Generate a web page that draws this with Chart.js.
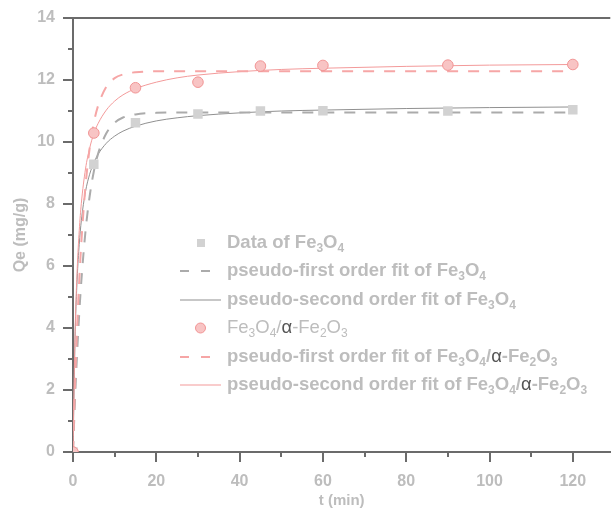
<!DOCTYPE html>
<html>
<head>
<meta charset="utf-8">
<script src="https://cdn.jsdelivr.net/npm/chart.js@4.4.1/dist/chart.umd.min.js"></script>
<style>
html, body { margin: 0; padding: 0; background: #fff; overflow: hidden; }
#wrap { width: 617px; height: 518px; position: relative; }
</style>
</head>
<body>
<div id="wrap"><canvas id="chart"></canvas></div>
<script>
// 实验数据 (t / min)
const tData = [0, 5, 15, 30, 45, 60, 90, 120];
const qFe3O4 = [0, 9.28, 10.62, 10.9, 11.0, 11.01, 11.0, 11.04];
const qComposite = [0, 10.29, 11.75, 11.93, 12.45, 12.47, 12.48, 12.5];

// 拟合曲线
const tFit = [0, 0.5, 1, 1.5, 2, 3, 4, 5, 6, 8, 10, 12, 15, 20, 25, 30, 40, 50, 60, 80, 100, 120];
const pfoFe3O4 = [0, 1.76, 3.23, 4.47, 5.51, 7.12, 8.25, 9.05, 9.61, 10.28, 10.62, 10.79, 10.89, 10.94, 10.95, 10.95, 10.95, 10.95, 10.95, 10.95, 10.95, 10.95];
const psoFe3O4 = [0, 3.71, 5.58, 6.7, 7.46, 8.4, 8.96, 9.33, 9.6, 9.96, 10.19, 10.35, 10.51, 10.68, 10.78, 10.85, 10.94, 11.0, 11.03, 11.08, 11.11, 11.13];
const pfoComposite = [0, 2.22, 4.05, 5.54, 6.76, 8.58, 9.8, 10.62, 11.16, 11.78, 12.06, 12.18, 12.25, 12.28, 12.28, 12.28, 12.28, 12.28, 12.28, 12.28, 12.28, 12.28];
const psoComposite = [0, 3.83, 5.88, 7.15, 8.02, 9.13, 9.8, 10.27, 10.59, 11.03, 11.32, 11.52, 11.72, 11.93, 12.07, 12.16, 12.27, 12.34, 12.38, 12.44, 12.48, 12.5];

const xTicks = [0, 20, 40, 60, 80, 100, 120];
const xMinorTicks = [10, 30, 50, 70, 90, 110];
const yTicks = [0, 2, 4, 6, 8, 10, 12, 14];
const yMinorTicks = [1, 3, 5, 7, 9, 11, 13];

// 图例文字: _n 表示下标, α 单独着色
const legendLabels = [
    'Data of Fe_3O_4',
    'pseudo-first order fit of Fe_3O_4',
    'pseudo-second order fit of Fe_3O_4',
    'Fe_3O_4/α-Fe_2O_3',
    'pseudo-first order fit of Fe_3O_4/α-Fe_2O_3',
    'pseudo-second order fit of Fe_3O_4/α-Fe_2O_3'
];

const AXIS = '#6b6b6b';
const TEXT = '#bdbdbd';
const FONT = '"Liberation Sans", Arial, sans-serif';

function toXY(xs, ys) {
    return xs.map((x, i) => ({ x: x, y: ys[i] }));
}

// 次刻度 + 顶部边框
const minorTicks = {
    id: 'minorTicks',
    afterDraw(chart) {
        const ctx = chart.ctx;
        const xs = chart.scales.x, ys = chart.scales.y;
        const a = chart.chartArea;
        ctx.save();
        ctx.strokeStyle = AXIS;
        ctx.lineWidth = 2;
        ctx.beginPath();
        ctx.moveTo(a.left - 1, a.top);
        ctx.lineTo(a.right, a.top);
        ctx.stroke();
        ctx.beginPath();
        xMinorTicks.forEach(v => {
            const px = Math.round(xs.getPixelForValue(v));
            ctx.moveTo(px, a.bottom);
            ctx.lineTo(px, a.bottom + 5);
        });
        yMinorTicks.forEach(v => {
            const py = Math.round(ys.getPixelForValue(v));
            ctx.moveTo(a.left, py);
            ctx.lineTo(a.left - 5, py);
        });
        ctx.stroke();
        ctx.restore();
    }
};

function drawRichText(ctx, text, x, y, bold) {
    const parts = text.split(/(_\d|α)/).filter(s => s.length);
    let cx = x;
    parts.forEach(p => {
        if (p.startsWith('_')) {
            ctx.font = (bold ? 'bold ' : '') + '12px ' + FONT;
            ctx.fillStyle = TEXT;
            ctx.fillText(p.slice(1), cx, y + 6);
            cx += ctx.measureText(p.slice(1)).width;
        } else if (p === 'α') {
            ctx.font = '18.5px ' + FONT;
            ctx.fillStyle = '#555';
            ctx.fillText(p, cx, y);
            cx += ctx.measureText(p).width;
        } else {
            ctx.font = (bold ? 'bold ' : '') + '18.5px ' + FONT;
            ctx.fillStyle = TEXT;
            ctx.fillText(p, cx, y);
            cx += ctx.measureText(p).width;
        }
    });
}

// 自定义图例 (带下标)
const richLegend = {
    id: 'richLegend',
    afterDraw(chart) {
        const ctx = chart.ctx;
        const ds = chart.data.datasets;
        const tx = 227;
        ctx.save();
        ctx.textBaseline = 'middle';
        ds.forEach((d, i) => {
            const y = Math.round(243 + i * 28.4);
            if (d.showLine) {
                const dashed = !!d.borderDash;
                ctx.strokeStyle = d.borderColor;
                ctx.lineWidth = dashed ? 2 : 1.2;
                ctx.setLineDash(dashed ? [9, 12] : []);
                ctx.beginPath();
                ctx.moveTo(180, y);
                ctx.lineTo(dashed ? 213 : 221, y);
                ctx.stroke();
                ctx.setLineDash([]);
            } else if (d.pointStyle === 'rect') {
                ctx.fillStyle = d.backgroundColor;
                ctx.fillRect(197, y - 4, 8, 8);
            } else {
                ctx.fillStyle = d.backgroundColor;
                ctx.strokeStyle = d.borderColor;
                ctx.lineWidth = 1;
                ctx.beginPath();
                ctx.arc(200.5, y, 5, 0, Math.PI * 2);
                ctx.fill();
                ctx.stroke();
            }
            drawRichText(ctx, legendLabels[i], tx, y, i !== 3);
        });
        ctx.restore();
    }
};

new Chart(document.getElementById('chart'), {
    type: 'scatter',
    data: {
        datasets: [{
            label: legendLabels[0],
            data: toXY(tData, qFe3O4),
            pointStyle: 'rect',
            pointRadius: 6.7,
            backgroundColor: '#d2d2d2',
            borderColor: '#d2d2d2',
            borderWidth: 0,
            order: 1
        }, {
            label: legendLabels[1],
            data: toXY(tFit, pfoFe3O4),
            showLine: true,
            pointRadius: 0,
            borderColor: '#ababab',
            borderWidth: 2,
            borderDash: [11, 10],
            cubicInterpolationMode: 'monotone',
            order: 3
        }, {
            label: legendLabels[2],
            data: toXY(tFit, psoFe3O4),
            showLine: true,
            pointRadius: 0,
            borderColor: '#909090',
            borderWidth: 1,
            cubicInterpolationMode: 'monotone',
            order: 3
        }, {
            label: legendLabels[3],
            data: toXY(tData, qComposite),
            pointStyle: 'circle',
            pointRadius: 5.3,
            backgroundColor: '#f8c4c4',
            borderColor: '#f19494',
            borderWidth: 1,
            order: 0
        }, {
            label: legendLabels[4],
            data: toXY(tFit, pfoComposite),
            showLine: true,
            pointRadius: 0,
            borderColor: '#f6a6a6',
            borderWidth: 2,
            borderDash: [11, 10],
            cubicInterpolationMode: 'monotone',
            order: 2
        }, {
            label: legendLabels[5],
            data: toXY(tFit, psoComposite),
            showLine: true,
            pointRadius: 0,
            borderColor: '#f39a9a',
            borderWidth: 1,
            cubicInterpolationMode: 'monotone',
            order: 2
        }]
    },
    options: {
        responsive: true,
        maintainAspectRatio: false,
        animation: false,
        layout: { padding: { top: 18, right: 0, left: 0, bottom: 0 } },
        scales: {
            x: {
                type: 'linear',
                min: 0,
                max: 129,
                afterBuildTicks: s => { s.ticks = xTicks.map(v => ({ value: v })); },
                afterFit: s => { s.height = 66; },
                border: { color: AXIS, width: 2 },
                grid: { drawOnChartArea: false, drawTicks: true, tickLength: 10, color: AXIS, lineWidth: 2 },
                ticks: {
                    color: TEXT,
                    padding: 10,
                    maxRotation: 0,
                    font: { family: FONT, size: 16, weight: 'bold' }
                },
                title: {
                    display: true,
                    text: 't (min)',
                    color: TEXT,
                    padding: { top: 0, bottom: 8 },
                    font: { family: FONT, size: 15, weight: 'bold' }
                }
            },
            y: {
                min: 0,
                max: 14,
                afterBuildTicks: s => { s.ticks = yTicks.map(v => ({ value: v })); },
                afterFit: s => { s.width = 73; },
                border: { color: AXIS, width: 2 },
                grid: { drawOnChartArea: false, drawTicks: true, tickLength: 10, color: AXIS, lineWidth: 2 },
                ticks: {
                    color: TEXT,
                    padding: 8,
                    font: { family: FONT, size: 16, weight: 'bold' }
                },
                title: {
                    display: true,
                    text: 'Qe (mg/g)',
                    color: TEXT,
                    padding: { top: 11, bottom: 0 },
                    font: { family: FONT, size: 16, weight: 'bold' }
                }
            }
        },
        plugins: {
            legend: { display: false },
            tooltip: { enabled: false }
        }
    },
    plugins: [minorTicks, richLegend]
});
</script>
</body>
</html>
